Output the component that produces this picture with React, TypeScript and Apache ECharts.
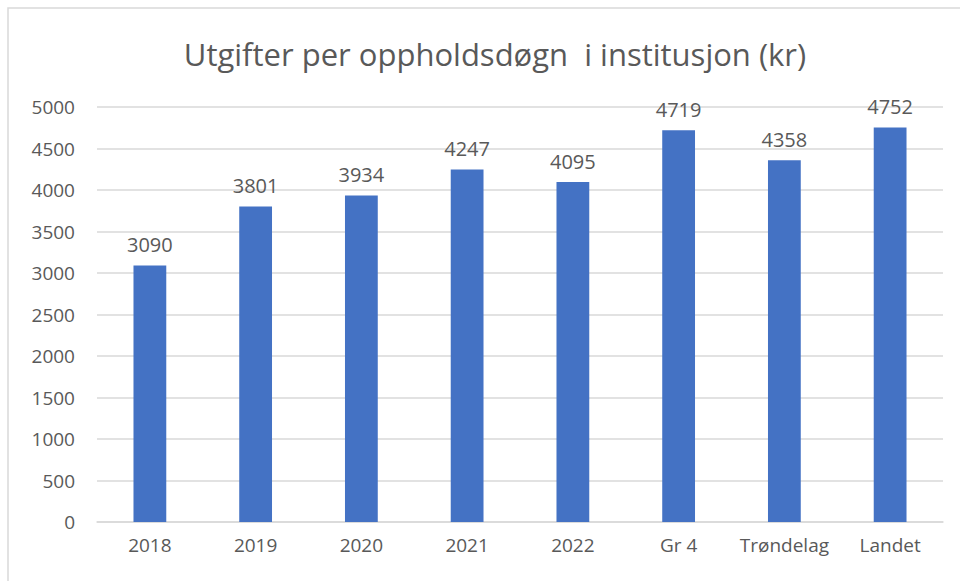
import React, { useEffect, useRef } from "react";
import * as echarts from "echarts";

const categories = ["2018", "2019", "2020", "2021", "2022", "Gr 4", "Trøndelag", "Landet"];
const values = [3090, 3801, 3934, 4247, 4095, 4719, 4358, 4752];
const titleText = "Utgifter per oppholdsdøgn  i institusjon (kr)";

export default function App() {
  const ref = useRef<HTMLDivElement>(null);
  useEffect(() => {
    const chart = echarts.init(ref.current!, null, { renderer: "svg" });
    const font = "Open Sans";
    chart.setOption({
      animation: false,
      backgroundColor: "#ffffff",
      title: {
        text: titleText,
        left: 490,
        textAlign: "center",
        top: 33,
        textStyle: { fontFamily: font, fontSize: 31, fontWeight: "normal", color: "#595959" },
      },
      graphic: [
        {
          type: "rect",
          shape: { x: 8, y: 8, width: 980, height: 600 },
          style: { fill: "none", stroke: "#d9d9d9", lineWidth: 1.5 },
          silent: true,
        },
      ],
      grid: { left: 97, right: 17, top: 107, bottom: 59 },
      xAxis: {
        type: "category",
        data: categories,
        axisLine: { lineStyle: { color: "#d9d9d9", width: 1.5 } },
        axisTick: { show: false },
        axisLabel: {
          color: "#595959",
          fontFamily: font,
          fontSize: 19,
          margin: 13,
          interval: 0,
          hideOverlap: false,
        },
      },
      yAxis: {
        type: "value",
        min: 0,
        max: 5000,
        interval: 500,
        axisLine: { show: false },
        axisTick: { show: false },
        splitLine: { lineStyle: { color: "#d9d9d9", width: 1.5 } },
        axisLabel: {
          color: "#595959",
          fontFamily: font,
          fontSize: 19,
          margin: 22,
          formatter: (v: number) => String(v),
        },
      },
      series: [
        {
          type: "bar",
          data: values,
          barWidth: "31%",
          itemStyle: { color: "#4472C4" },
          label: {
            show: true,
            position: "top",
            distance: 11,
            color: "#595959",
            fontFamily: font,
            fontSize: 20,
          },
        },
      ],
    });
    return () => chart.dispose();
  }, []);
  return (
    <div
      ref={ref}
      style={{ position: "fixed", left: 0, top: 0, width: 960, height: 581 }}
    />
  );
}
